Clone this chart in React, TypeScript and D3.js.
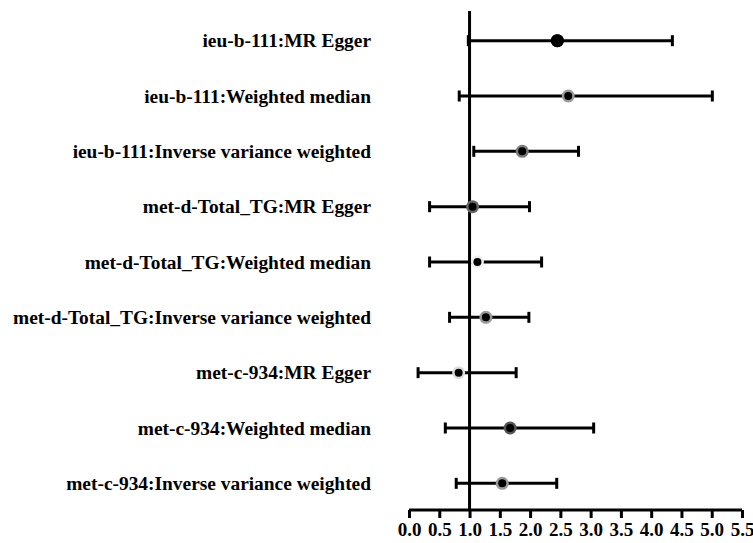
import React, { useEffect, useRef } from "react";
import * as d3 from "d3";

const labels = [
  "ieu-b-111:MR Egger",
  "ieu-b-111:Weighted median",
  "ieu-b-111:Inverse variance weighted",
  "met-d-Total_TG:MR Egger",
  "met-d-Total_TG:Weighted median",
  "met-d-Total_TG:Inverse variance weighted",
  "met-c-934:MR Egger",
  "met-c-934:Weighted median",
  "met-c-934:Inverse variance weighted",
];
const estimates = [2.45, 2.63, 1.87, 1.05, 1.13, 1.27, 0.82, 1.67, 1.54];
const lowers = [0.98, 0.83, 1.07, 0.34, 0.34, 0.67, 0.15, 0.6, 0.78];
const uppers = [4.35, 5.01, 2.8, 1.99, 2.19, 1.98, 1.77, 3.05, 2.44];
const rings = ["#000", "#9a9a9a", "#7a7a7a", "#666", "#eee", "#999", "#ddd", "#555", "#999"];
const ticks = [0, 0.5, 1, 1.5, 2, 2.5, 3, 3.5, 4, 4.5, 5, 5.5];

const W = 753;
const H = 543;

export default function App() {
  const ref = useRef<SVGSVGElement>(null);

  useEffect(() => {
    const svg = d3.select(ref.current);
    svg.selectAll("*").remove();

    const x = d3.scaleLinear().domain([0, 5.5]).range([409, 742]);
    const y = d3.scalePoint<string>().domain(labels).range([13, 511]).padding(0.5);
    const font = "'Liberation Serif', 'Times New Roman', serif";

    // reference line at 1
    svg.append("line")
      .attr("x1", x(1)).attr("x2", x(1))
      .attr("y1", 11).attr("y2", 510)
      .attr("stroke", "#000").attr("stroke-width", 3);

    // x axis
    const axis = svg.append("g").attr("transform", "translate(0,510)");
    axis.call(d3.axisBottom(x).tickValues(ticks).tickSize(8).tickFormat(d3.format(".1f")) as any);
    axis.select(".domain").attr("stroke", "#000").attr("stroke-width", 3).attr("d", `M${x(0)},0H${x(5.5)}`);
    axis.selectAll(".tick line").attr("stroke", "#000").attr("stroke-width", 3);
    axis.selectAll(".tick text")
      .attr("font-family", font).attr("font-weight", "bold").attr("font-size", 19)
      .attr("fill", "#000").attr("y", 13);

    // labels
    svg.append("g").selectAll("text").data(labels).join("text")
      .attr("x", 371).attr("y", (d) => y(d)!)
      .attr("dy", "0.35em")
      .attr("text-anchor", "end")
      .attr("font-family", font).attr("font-weight", "bold").attr("font-size", 19.4)
      .attr("fill", "#000")
      .text((d) => d);

    const rows = svg.append("g").selectAll("g").data(labels).join("g")
      .attr("transform", (d) => `translate(0,${y(d)})`);

    rows.append("line")
      .attr("x1", (_, i) => x(lowers[i])).attr("x2", (_, i) => x(uppers[i]))
      .attr("stroke", "#000").attr("stroke-width", 3);
    rows.append("line")
      .attr("x1", (_, i) => x(lowers[i])).attr("x2", (_, i) => x(lowers[i]))
      .attr("y1", -5.5).attr("y2", 5.5)
      .attr("stroke", "#000").attr("stroke-width", 3);
    rows.append("line")
      .attr("x1", (_, i) => x(uppers[i])).attr("x2", (_, i) => x(uppers[i]))
      .attr("y1", -5.5).attr("y2", 5.5)
      .attr("stroke", "#000").attr("stroke-width", 3);
    rows.append("circle")
      .attr("cx", (_, i) => x(estimates[i]))
      .attr("r", 6.5)
      .attr("fill", (_, i) => rings[i]);
    rows.append("circle")
      .attr("cx", (_, i) => x(estimates[i]))
      .attr("r", (_, i) => (i === 0 ? 6.5 : 4))
      .attr("fill", "#000");
  }, []);

  return (
    <svg
      ref={ref}
      width={W}
      height={H}
      style={{ position: "absolute", left: 0, top: 0, background: "#fff" }}
    />
  );
}
